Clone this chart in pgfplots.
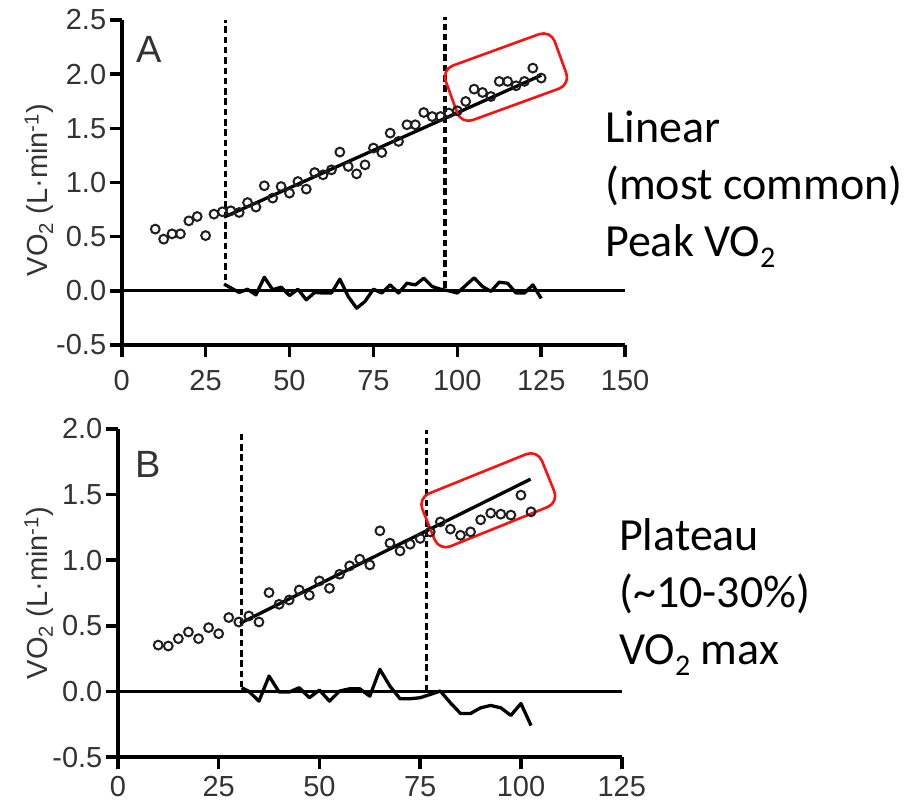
\documentclass[border=0pt]{standalone}
\usepackage{fontspec}
\setmainfont{Liberation Sans}
\newfontfamily\calfont{Carlito}
\usepackage{pgfplots}
\pgfplotsset{compat=1.18}
\definecolor{tg}{HTML}{333333}
\definecolor{mk}{HTML}{1E1E1E}
\definecolor{bx}{HTML}{FF1010}

\pgfplotstableread{
x y
10 0.570
12.5 0.477
15 0.526
17.5 0.526
20 0.646
22.5 0.686
25 0.510
27.5 0.708
30 0.730
32.5 0.739
35 0.723
37.5 0.815
40 0.773
42.5 0.970
45 0.856
47.5 0.963
50 0.902
52.5 1.009
55 0.939
57.5 1.092
60 1.071
62.5 1.117
65 1.281
67.5 1.148
70 1.080
72.5 1.163
75 1.318
77.5 1.277
80 1.456
82.5 1.379
85 1.533
87.5 1.533
90 1.646
92.5 1.609
95 1.609
97.5 1.641
100 1.662
102.5 1.748
105 1.862
107.5 1.831
110 1.794
112.5 1.933
115 1.933
117.5 1.893
120 1.933
122.5 2.056
125 1.964
}\ptsA

\pgfplotstableread{
x r
30.5 0.062
35 -0.015
37.5 0.015
40 -0.037
42.5 0.126
45 0.010
47.5 0.034
50 -0.043
52.5 0.015
55 -0.083
57.5 -0.015
60 -0.020
62.5 -0.020
65 0.108
67.5 -0.052
70 -0.160
72.5 -0.098
75 0.015
77.5 -0.020
80 0.055
82.5 -0.020
85 0.070
87.5 0.055
90 0.117
92.5 0.040
95 0.015
97.5 0.000
100 -0.020
102.5 0.050
105 0.120
107.5 0.040
110 -0.005
112.5 0.080
115 0.070
117.5 -0.020
120 -0.020
122.5 0.055
125 -0.070
}\resA

\pgfplotstableread{
x y
10 0.353
12.5 0.346
15 0.402
17.5 0.453
20 0.402
22.5 0.486
25 0.440
27.5 0.563
30 0.529
32.5 0.575
35 0.529
37.5 0.753
40 0.664
42.5 0.697
45 0.773
47.5 0.733
50 0.842
52.5 0.786
55 0.893
57.5 0.957
60 1.008
62.5 0.964
65 1.224
67.5 1.130
70 1.071
72.5 1.122
75 1.166
77.5 1.216
80 1.292
82.5 1.237
85 1.190
87.5 1.216
90 1.308
92.5 1.359
95 1.351
97.5 1.344
100 1.496
102.5 1.369
}\ptsB

\pgfplotstableread{
x r
30.7 0.028
32.5 0.000
35 -0.074
37.5 0.117
40 -0.005
42.5 -0.005
45 0.028
47.5 -0.048
50 0.010
52.5 -0.074
55 0.003
57.5 0.020
60 0.020
62.5 -0.036
65 0.168
67.5 0.040
70 -0.056
72.5 -0.056
75 -0.048
77.5 -0.023
80 0.003
82.5 -0.087
85 -0.168
87.5 -0.168
90 -0.125
92.5 -0.107
95 -0.125
97.5 -0.183
100 -0.092
102.5 -0.260
}\resB

\pgfplotsset{
  myax/.style={
    scale only axis, anchor=south west, clip=false,
    axis x line*=bottom, axis y line*=left,
    every outer x axis line/.append style={-},
    every outer y axis line/.append style={-},
    axis line style={-, line width=3.6pt, black},
    tick align=outside, major tick length=12pt,
    tick style={line width=3.6pt, black},
    ticklabel style={font=\fontsize{29}{29}\selectfont, text=tg},
    xticklabel style={inner ysep=1pt},
    ylabel={\fontsize{29}{29}\selectfont VO\textsubscript{2} (L·min\textsuperscript{-1})},
    ylabel style={text=tg, anchor=center},
  },
  pts/.style={only marks, mark=o, mark size=4.4pt, mark options={line width=2pt, draw=mk}},
  thk/.style={line width=3.3pt, black, line join=round},
  dsh/.style={line width=3.5pt, black, dash pattern=on 6.5pt off 3.8pt},
}

\begin{document}
\begin{tikzpicture}
\useasboundingbox (0pt,0pt) rectangle (917pt,-804pt);

% Panel A
\begin{axis}[myax,
  at={(121.7pt,-345pt)}, width=503.4pt, height=325pt,
  xmin=0, xmax=150, ymin=-0.5, ymax=2.5,
  xticklabel shift=12pt,
  xtick={0,25,50,75,100,125,150},
  xticklabels={0,25,50,75,100,125,150},
  ytick={-0.5,0,0.5,1,1.5,2,2.5},
  yticklabels={-0.5,0.0,0.5,1.0,1.5,2.0,2.5},
  ylabel style={at={(axis description cs:-0.164,0.477)}},
]
\addplot[thk] coordinates {(0,0) (150,0)};
\addplot[dsh] coordinates {(31,0.10) (31,2.5)};
\addplot[dsh] coordinates {(96.3,0.03) (96.3,2.53)};
\addplot[thk] coordinates {(30.5,0.68) (125,1.99)};
\addplot[thk] table[x=x,y=r] {\resA};
\addplot[pts] table[x=x,y=y] {\ptsA};
\node[draw=bx, line width=2.6pt, rounded corners=12pt, rotate=20,
  minimum width=116pt, minimum height=58pt, inner sep=0pt]
  at (axis cs:114.5,1.973) {};
\end{axis}

% Panel B
\begin{axis}[myax,
  at={(117.9pt,-757pt)}, width=503.8pt, height=328pt,
  xmin=0, xmax=125, ymin=-0.5, ymax=2,
  xticklabel shift=6pt,
  xtick={0,25,50,75,100,125},
  xticklabels={0,25,50,75,100,125},
  ytick={-0.5,0,0.5,1,1.5,2},
  yticklabels={-0.5,0.0,0.5,1.0,1.5,2.0},
  ylabel style={at={(axis description cs:-0.157,0.5)}},
]
\addplot[thk] coordinates {(0,0) (125,0)};
\addplot[dsh] coordinates {(30.7,0.03) (30.7,1.98)};
\addplot[dsh] coordinates {(76.6,0.0) (76.6,1.99)};
\addplot[thk] coordinates {(30.3,0.519) (102.4,1.618)};
\addplot[thk] table[x=x,y=r] {\resB};
\addplot[pts] table[x=x,y=y] {\ptsB};
\node[draw=bx, line width=2.6pt, rounded corners=12pt, rotate=22,
  minimum width=129pt, minimum height=57pt, inner sep=0pt]
  at (axis cs:91.9,1.457) {};
\end{axis}

% Panel letters
\node[anchor=base west, inner sep=0pt, font=\fontsize{38}{38}\selectfont, text=tg] at (136pt,-62pt) {A};
\node[anchor=base west, inner sep=0pt, font=\fontsize{38}{38}\selectfont, text=tg] at (135pt,-477pt) {B};

% Right-hand annotations
\begin{scope}[every node/.style={anchor=base west, inner sep=0pt, font=\calfont\fontsize{46}{46}\selectfont}]
\node at (605pt,-142pt) {Linear};
\node at (605pt,-199pt) {(most common)};
\node at (605pt,-256pt) {Peak VO\raisebox{-11pt}{\fontsize{30}{30}\selectfont 2}};
\node at (619pt,-550pt) {Plateau};
\node at (619pt,-607pt) {(\textasciitilde 10-30\%)};
\node at (619pt,-664pt) {VO\raisebox{-11pt}{\fontsize{30}{30}\selectfont 2} max};
\end{scope}
\end{tikzpicture}
\end{document}
